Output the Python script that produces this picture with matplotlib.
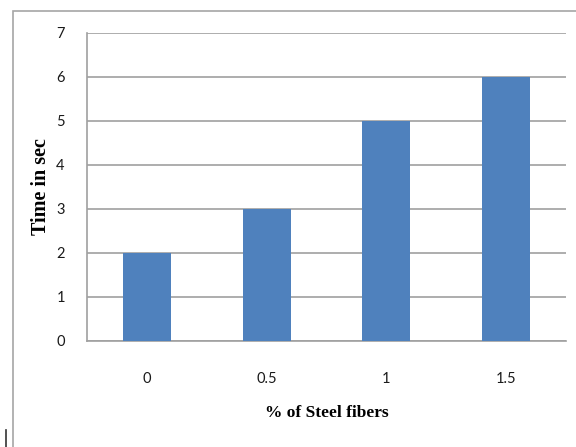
import matplotlib.pyplot as plt
from matplotlib.patches import Rectangle
from matplotlib.lines import Line2D

# data
categories = ["0", "0.5", "1", "1.5"]
times = [2, 3, 5, 6]
y_ticks = [0, 1, 2, 3, 4, 5, 6, 7]

W, H = 576, 447
fig = plt.figure(figsize=(W / 100, H / 100), dpi=100)

# outer chart-area border (right/bottom run off the image)
fig.patches.append(Rectangle((12.5 / W, -0.01), 1.0, 1 - 11 / H + 0.01,
                             transform=fig.transFigure, fill=False,
                             edgecolor="#a6a6a6", linewidth=1.2))
fig.lines.append(Line2D([6 / W, 6 / W], [0, 17 / H], transform=fig.transFigure,
                        color="#333333", linewidth=1.2))

ax = fig.add_axes([87 / W, (H - 341) / H, (566 - 87) / W, (341 - 33) / H])

x = range(len(categories))
ax.bar(x, times, width=0.4, color="#4f81bd", zorder=3)

ax.set_xlim(-0.5, len(categories) - 0.5)
ax.set_ylim(0, 7)
ax.set_yticks(y_ticks)
ax.set_xticks(list(x))
ax.set_xticklabels(categories)
ax.grid(axis="y", color="#a0a0a0", linewidth=1.2, zorder=0)
ax.tick_params(length=0, labelsize=10.5, colors="#1a1a1a")
ax.tick_params(axis="x", pad=22)
ax.tick_params(axis="y", pad=16)
for lbl in ax.get_xticklabels() + ax.get_yticklabels():
    lbl.set_family("Lato")

for side in ["top", "right"]:
    ax.spines[side].set_visible(False)
for side in ["left", "bottom"]:
    ax.spines[side].set_color("#a0a0a0")
    ax.spines[side].set_linewidth(1.2)

ax.set_xlabel("% of Steel fibers", family="Liberation Serif", fontweight="bold",
              fontsize=12.5, labelpad=14)
ax.set_ylabel("Time in sec", family="Liberation Serif", fontweight="bold",
              fontsize=14.5, labelpad=4)

fig.savefig("out.png", dpi=100)
